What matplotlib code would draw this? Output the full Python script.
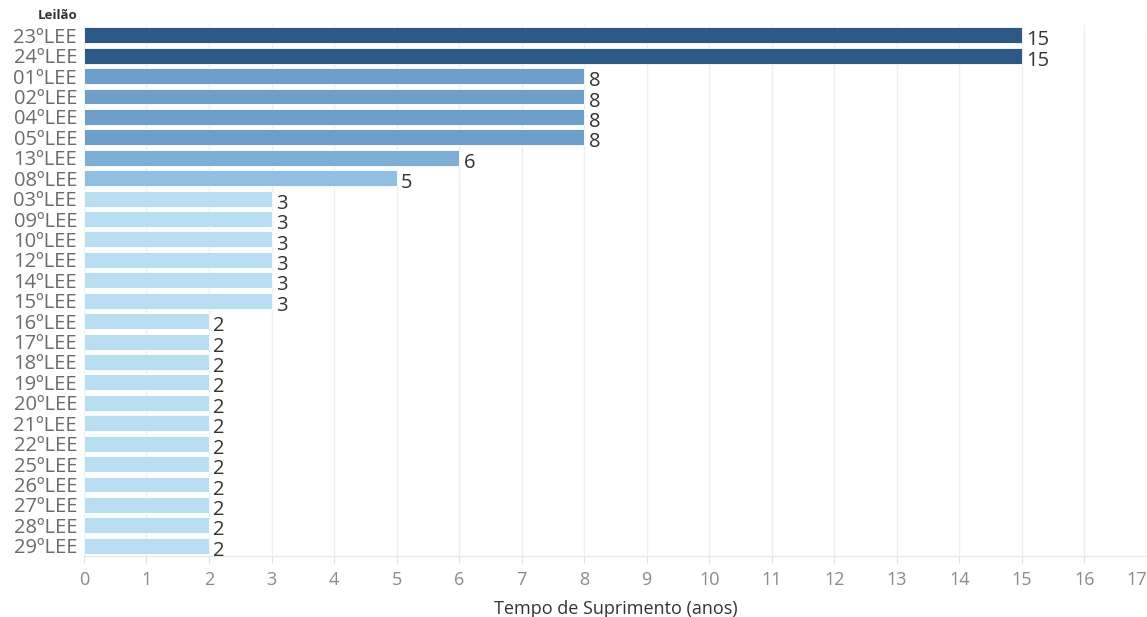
import matplotlib.pyplot as plt

# data
leiloes = ["23ºLEE", "24ºLEE", "01ºLEE", "02ºLEE", "04ºLEE", "05ºLEE", "13ºLEE",
           "08ºLEE", "03ºLEE", "09ºLEE", "10ºLEE", "12ºLEE", "14ºLEE", "15ºLEE",
           "16ºLEE", "17ºLEE", "18ºLEE", "19ºLEE", "20ºLEE", "21ºLEE", "22ºLEE",
           "25ºLEE", "26ºLEE", "27ºLEE", "28ºLEE", "29ºLEE"]
anos = [15, 15, 8, 8, 8, 8, 6, 5, 3, 3, 3, 3, 3, 3,
        2, 2, 2, 2, 2, 2, 2, 2, 2, 2, 2, 2]

# colour by value, like the tableau gradient
cores = {15: "#2c5985", 8: "#6e9fc9", 6: "#7eaed5", 5: "#90bfe1", 3: "#b9ddf1", 2: "#b9ddf1"}

plt.rcParams['font.family'] = ['Open Sans', 'DejaVu Sans']

fig = plt.figure(figsize=(11.47, 6.17), dpi=100)
ax = fig.add_axes([0.0732, 0.0989, 0.9268, 0.8606])

y = list(range(len(leiloes)))
ax.barh(y, anos, height=0.78, color=[cores[v] for v in anos],
        edgecolor="white", linewidth=0.6, zorder=2)

for yi, v in zip(y, anos):
    ax.text(v + 0.07, yi + 0.25, str(v), va="center", ha="left",
            fontsize=14.5, color="#333333", zorder=3)

ax.set_xlim(0, 17)
ax.set_ylim(len(leiloes) - 0.5, -0.5)
ax.set_xticks(range(0, 18))
ax.set_yticks(y)
ax.set_yticklabels(leiloes, fontsize=14.5, color="#6b6b6b")
ax.tick_params(axis="x", labelsize=13, labelcolor="#8a8a8a", color="#e0e0e0",
               length=5, pad=6)
ax.tick_params(axis="y", length=0, pad=5)
# last label kept inside the figure, as in the reference
ax.get_xticklabels()[-1].set_horizontalalignment("right")

ax.grid(axis="x", color="#efefef", linewidth=1, zorder=0)
for s in ["top", "right", "left"]:
    ax.spines[s].set_visible(False)
ax.spines["bottom"].set_color("#e6e6e6")

ax.set_xlabel("Tempo de Suprimento (anos)", fontsize=13, color="#333333", labelpad=8)
fig.text(0.033, 0.975, "Leilão", fontsize=9.5, fontweight="bold", color="#333333",
         ha="left", va="center")

fig.savefig("out.png", dpi=100)
